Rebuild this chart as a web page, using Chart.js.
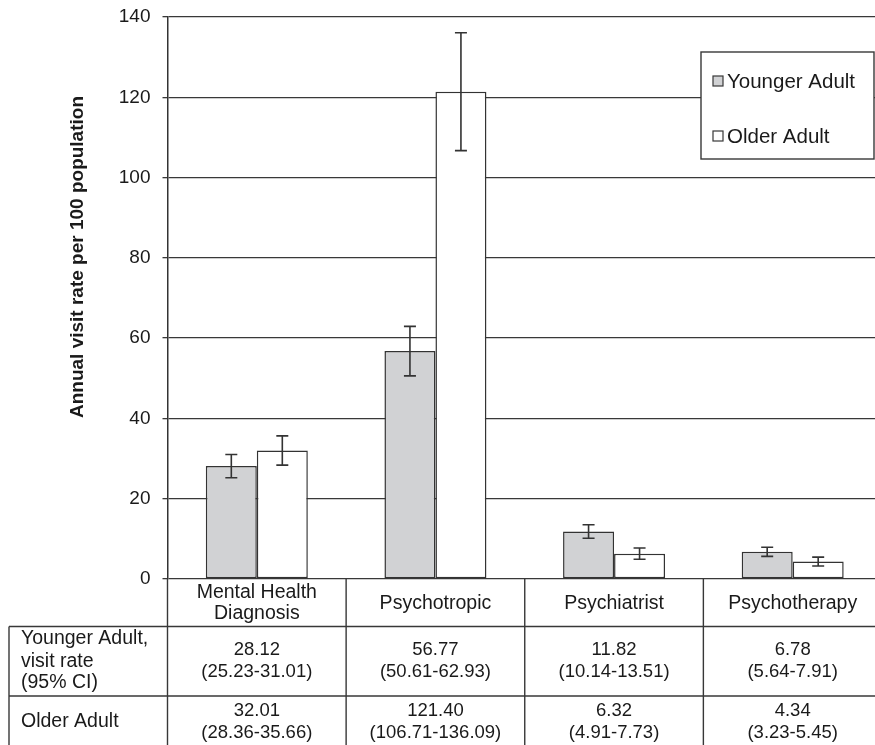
<!DOCTYPE html>
<html lang="en">
<head>
  <meta charset="UTF-8">
  <title>Annual visit rate per 100 population</title>
  <script src="https://cdn.jsdelivr.net/npm/chart.js"></script>
  <style>
    body {
      margin: 0;
      overflow: hidden;
      background: #fff;
    }
    #wrap {
      width: 882px;
      height: 745px;
    }
  </style>
</head>
<body>
  <div id="wrap">
    <canvas id="chart" width="882" height="745"></canvas>
  </div>

  <script>
    // data
    const categories = [["Mental Health", "Diagnosis"], "Psychotropic", "Psychiatrist", "Psychotherapy"];
    const seriesNames = ["Younger Adult", "Older Adult"];
    const rowLabels = [["Younger Adult,", "visit rate", "(95% CI)"], ["Older Adult"]];

    const youngerRate = [28.12, 56.77, 11.82, 6.78];
    const youngerLow = [25.23, 50.61, 10.14, 5.64];
    const youngerHigh = [31.01, 62.93, 13.51, 7.91];

    const olderRate = [32.01, 121.40, 6.32, 4.34];
    const olderLow = [28.36, 106.71, 4.91, 3.23];
    const olderHigh = [35.66, 136.09, 7.73, 5.45];

    const yTicks = [0, 20, 40, 60, 80, 100, 120, 140];

    const FONT = '"Liberation Sans", Arial, sans-serif';
    const INK = "#1a1a1a";
    const LINE = "#383838";

    const ciLow = [youngerLow, olderLow];
    const ciHigh = [youngerHigh, olderHigh];
    const rates = [youngerRate, olderRate];

    // error bars on each bar
    const errorBars = {
      id: "errorBars",
      afterDatasetsDraw(chart) {
        const ctx = chart.ctx;
        const y = chart.scales.y;
        ctx.save();
        ctx.strokeStyle = "#333";
        ctx.lineWidth = 1.6;
        chart.data.datasets.forEach((ds, di) => {
          chart.getDatasetMeta(di).data.forEach((bar, i) => {
            const top = y.getPixelForValue(ciHigh[di][i]);
            const bot = y.getPixelForValue(ciLow[di][i]);
            ctx.beginPath();
            ctx.moveTo(bar.x, top);
            ctx.lineTo(bar.x, bot);
            ctx.moveTo(bar.x - 6, top);
            ctx.lineTo(bar.x + 6, top);
            ctx.moveTo(bar.x - 6, bot);
            ctx.lineTo(bar.x + 6, bot);
            ctx.stroke();
          });
        });
        ctx.restore();
      }
    };

    // axis title, legend box and the data table under the plot
    const extras = {
      id: "extras",
      afterDraw(chart) {
        const ctx = chart.ctx;
        const area = chart.chartArea;
        const x = chart.scales.x;
        const W = chart.width;
        const H = chart.height;
        ctx.save();

        // y title
        ctx.save();
        ctx.translate(78, 257);
        ctx.rotate(-Math.PI / 2);
        ctx.font = "bold 19px " + FONT;
        ctx.fillStyle = INK;
        ctx.textAlign = "center";
        ctx.textBaseline = "middle";
        ctx.fillText("Annual visit rate per 100 population", 0, 0);
        ctx.restore();

        // legend
        ctx.fillStyle = "#fff";
        ctx.fillRect(701, 52, 173, 107);
        ctx.strokeStyle = LINE;
        ctx.lineWidth = 1.4;
        ctx.strokeRect(701, 52, 173, 107);
        const colors = chart.data.datasets.map(d => d.backgroundColor);
        const legendY = [81, 136];
        ctx.font = "20.5px " + FONT;
        ctx.textAlign = "left";
        ctx.textBaseline = "middle";
        seriesNames.forEach((name, i) => {
          ctx.fillStyle = colors[i];
          ctx.fillRect(713, legendY[i] - 5, 10, 10);
          ctx.lineWidth = 1.2;
          ctx.strokeStyle = LINE;
          ctx.strokeRect(713, legendY[i] - 5, 10, 10);
          ctx.fillStyle = INK;
          ctx.fillText(name, 727, legendY[i] + 1);
        });

        // table grid
        const rowTop = area.bottom;
        const row2 = 626.5;
        const row3 = 696;
        const edges = [area.left];
        for (let i = 0; i < categories.length - 1; i++) {
          edges.push((x.getPixelForValue(i) + x.getPixelForValue(i + 1)) / 2);
        }
        edges.push(area.right);

        ctx.strokeStyle = LINE;
        ctx.lineWidth = 1.4;
        ctx.beginPath();
        ctx.moveTo(9, row2);
        ctx.lineTo(W, row2);
        ctx.moveTo(9, row3);
        ctx.lineTo(W, row3);
        ctx.moveTo(9, row2);
        ctx.lineTo(9, H);
        edges.slice(0, -1).forEach(ex => {
          ctx.moveTo(ex, rowTop);
          ctx.lineTo(ex, H);
        });
        ctx.stroke();

        // category header
        ctx.fillStyle = INK;
        ctx.textAlign = "center";
        ctx.textBaseline = "middle";
        ctx.font = "19.5px " + FONT;
        categories.forEach((c, i) => {
          const cx = (edges[i] + edges[i + 1]) / 2;
          if (Array.isArray(c)) {
            ctx.fillText(c[0], cx, 593);
            ctx.fillText(c[1], cx, 614);
          } else {
            ctx.fillText(c, cx, 604);
          }
        });

        // values with CI
        const rowY = [[650, 671.5], [711, 732.5]];
        ctx.font = "18.5px " + FONT;
        rates.forEach((vals, r) => {
          vals.forEach((v, i) => {
            const cx = (edges[i] + edges[i + 1]) / 2;
            ctx.fillText(v.toFixed(2), cx, rowY[r][0]);
            ctx.fillText("(" + ciLow[r][i].toFixed(2) + "-" + ciHigh[r][i].toFixed(2) + ")", cx, rowY[r][1]);
          });
        });

        // row labels
        ctx.textAlign = "left";
        ctx.font = "19.5px " + FONT;
        const labelY = [[639, 661.5, 683], [721.5]];
        rowLabels.forEach((lines, r) => {
          lines.forEach((t, k) => ctx.fillText(t, 21, labelY[r][k]));
        });

        ctx.restore();
      }
    };

    new Chart(document.getElementById("chart"), {
      type: "bar",
      data: {
        labels: categories,
        datasets: [
          {
            label: seriesNames[0],
            data: youngerRate,
            backgroundColor: "#d1d2d4",
            borderColor: "#333",
            borderWidth: 1.5,
            borderSkipped: false
          },
          {
            label: seriesNames[1],
            data: olderRate,
            backgroundColor: "#ffffff",
            borderColor: "#333",
            borderWidth: 1.5,
            borderSkipped: false
          }
        ]
      },
      options: {
        responsive: false,
        animation: false,
        layout: { padding: { top: 17, left: 0, right: 0, bottom: 0 } },
        datasets: {
          bar: { barPercentage: 1, categoryPercentage: 0.571 }
        },
        plugins: {
          legend: { display: false },
          tooltip: { enabled: false }
        },
        scales: {
          x: {
            offset: true,
            grid: { display: false },
            border: { display: false },
            ticks: { display: false },
            afterFit: s => { s.height = 166; s.paddingLeft = 0; s.paddingRight = 0; }
          },
          y: {
            min: 0,
            max: 140,
            afterBuildTicks: s => { s.ticks = yTicks.map(v => ({ value: v })); },
            ticks: {
              color: INK,
              font: { family: FONT, size: 19 },
              padding: 12
            },
            grid: { color: LINE, lineWidth: 1.3, tickLength: 5 },
            border: { color: "#333", width: 1.5 },
            afterFit: s => { s.width = 167.5; s.paddingTop = 0; s.paddingBottom = 0; }
          }
        }
      },
      plugins: [errorBars, extras]
    });
  </script>
</body>
</html>
